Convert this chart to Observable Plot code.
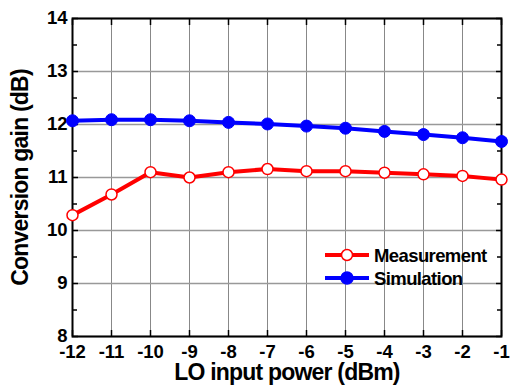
<!DOCTYPE html>
<html>
<head>
<meta charset="utf-8">
<script src="https://cdn.jsdelivr.net/npm/d3@7"></script>
<script src="https://cdn.jsdelivr.net/npm/@observablehq/plot@0.6"></script>
<style>
  body { margin: 0; background: #fff; }
</style>
</head>
<body>
<div id="chart"></div>
<script>
const loPower = [-12, -11, -10, -9, -8, -7, -6, -5, -4, -3, -2, -1];
const measurement = [10.29, 10.68, 11.10, 11.00, 11.10, 11.16, 11.12, 11.12, 11.09, 11.06, 11.03, 10.96];
const simulation = [12.07, 12.09, 12.09, 12.07, 12.04, 12.01, 11.97, 11.93, 11.87, 11.81, 11.75, 11.68];
const xTicks = [-12, -11, -10, -9, -8, -7, -6, -5, -4, -3, -2, -1];
const yTicks = [8, 9, 10, 11, 12, 13, 14];
const yMinorTicks = [8.5, 9.5, 10.5, 11.5, 12.5, 13.5];
const seriesNames = ["Measurement", "Simulation"];
const xTitle = "LO input power (dBm)";
const yTitle = "Conversion gain (dB)";

const meas = loPower.map((x, i) => ({x, y: measurement[i]}));
const sim = loPower.map((x, i) => ({x, y: simulation[i]}));

const RED = "#ff0000", BLUE = "#0000ff";
const FONT = "'Liberation Sans', Arial, Helvetica, sans-serif";

const chart = Plot.plot({
  width: 513,
  height: 388,
  marginLeft: 72,
  marginRight: 12,
  marginTop: 18,
  marginBottom: 52,
  style: {fontFamily: FONT, fontWeight: "bold", fontSize: "18px", color: "#000", background: "#fff"},
  x: {domain: [-12, -1], label: null},
  y: {domain: [8, 14], label: null},
  marks: [
    Plot.gridX(xTicks, {stroke: "#888", strokeOpacity: 1, strokeWidth: 1}),
    Plot.gridY(yTicks, {stroke: "#999", strokeOpacity: 1, strokeWidth: 1.3}),
    // inward ticks
    Plot.axisX(xTicks, {anchor: "bottom", tickSize: -6, text: null, label: null, strokeWidth: 1.5}),
    Plot.axisX(xTicks, {anchor: "top", tickSize: -6, text: null, label: null, strokeWidth: 1.5}),
    Plot.axisY(yTicks, {anchor: "left", tickSize: -6, text: null, label: null, strokeWidth: 1.5}),
    Plot.axisY(yMinorTicks, {anchor: "left", tickSize: -5, text: null, label: null, strokeWidth: 1.5}),
    Plot.axisY(yTicks, {anchor: "right", tickSize: -6, text: null, label: null, strokeWidth: 1.5}),
    Plot.axisY(yMinorTicks, {anchor: "right", tickSize: -5, text: null, label: null, strokeWidth: 1.5}),
    // tick labels
    Plot.axisX(xTicks, {anchor: "bottom", tickSize: 0, tickPadding: 8, label: null, tickFormat: d => d < 0 ? "-" + Math.abs(d) : String(d), fontSize: 18.5, fontWeight: "bold"}),
    Plot.axisY(yTicks, {anchor: "left", tickSize: 0, tickPadding: 5, label: null, tickFormat: d => String(d), fontSize: 18.5, fontWeight: "bold"}),
    Plot.frame({stroke: "#000", strokeWidth: 2}),
    // series
    Plot.line(sim, {x: "x", y: "y", stroke: BLUE, strokeWidth: 4}),
    Plot.dot(sim, {x: "x", y: "y", r: 6, fill: BLUE, stroke: BLUE, strokeWidth: 1}),
    Plot.line(meas, {x: "x", y: "y", stroke: RED, strokeWidth: 4}),
    Plot.dot(meas, {x: "x", y: "y", r: 5.5, fill: "#fff", stroke: RED, strokeWidth: 1.5}),
    // titles
    Plot.text([xTitle], {text: d => d, frameAnchor: "bottom", dy: 36, textAnchor: "middle", lineAnchor: "middle", fontSize: 23, fontWeight: "bold", fill: "#000"}),
    Plot.text([yTitle], {text: d => d, frameAnchor: "left", dx: -52, rotate: -90, textAnchor: "middle", lineAnchor: "middle", fontSize: 23, fontWeight: "bold", fill: "#000"})
  ]
});

document.getElementById("chart").appendChild(chart);

const svg = d3.select(chart);
svg.selectAll("text").filter(function() { return this.textContent === xTitle || this.textContent === yTitle; })
  .attr("letter-spacing", "-0.8px");

// legend
const legend = svg.append("g")
  .attr("font-family", FONT).attr("font-weight", "bold").attr("font-size", 18.5)
  .attr("text-anchor", "start");
const items = [
  {name: seriesNames[0], color: RED, fill: "#fff", r: 5.5, y: 255},
  {name: seriesNames[1], color: BLUE, fill: BLUE, r: 6, y: 278}
];
items.forEach(it => {
  legend.append("line").attr("x1", 325).attr("x2", 369).attr("y1", it.y).attr("y2", it.y)
    .attr("stroke", it.color).attr("stroke-width", 4);
  legend.append("circle").attr("cx", 347).attr("cy", it.y).attr("r", it.r)
    .attr("fill", it.fill).attr("stroke", it.color).attr("stroke-width", 1.5);
  legend.append("text").attr("x", 374).attr("y", it.y).attr("dy", "0.36em")
    .attr("text-anchor", "start")
    .attr("letter-spacing", "-0.6px").attr("fill", "#000").text(it.name);
});
</script>
</body>
</html>
